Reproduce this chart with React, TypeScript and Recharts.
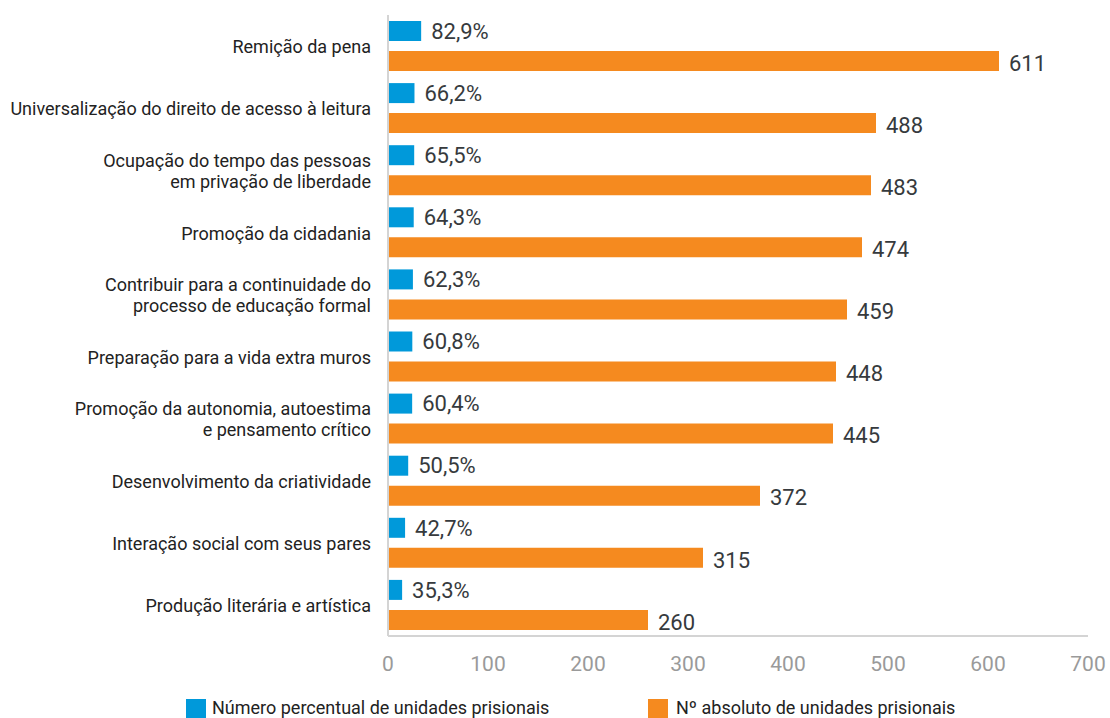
import { BarChart, Bar, XAxis, YAxis, Legend, LabelList } from 'recharts'

const categories = [
  'Remição da pena',
  'Universalização do direito de acesso à leitura',
  'Ocupação do tempo das pessoas\nem privação de liberdade',
  'Promoção da cidadania',
  'Contribuir para a continuidade do\nprocesso de educação formal',
  'Preparação para a vida extra muros',
  'Promoção da autonomia, autoestima\ne pensamento crítico',
  'Desenvolvimento da criatividade',
  'Interação social com seus pares',
  'Produção literária e artística',
]
const percentValues = [82.9, 66.2, 65.5, 64.3, 62.3, 60.8, 60.4, 50.5, 42.7, 35.3]
const absoluteValues = [611, 488, 483, 474, 459, 448, 445, 372, 315, 260]
const xTicks = [0, 100, 200, 300, 400, 500, 600, 700]

const BLUE = '#0099DA'
const ORANGE = '#F58A1F'
const FONT = 'Roboto, "Noto Sans", sans-serif'

const data = categories.map((name, i) => ({ name, pct: percentValues[i], abs: absoluteValues[i] }))

const CategoryTick = ({ x, y, payload }: any) => {
  const lines = String(payload.value).split('\n')
  const lh = 21
  const start = -((lines.length - 1) * lh) / 2
  return (
    <text x={x} y={y + 1} textAnchor="end" fontSize={18} fill="#222" fontFamily={FONT}>
      {lines.map((l, i) => (
        <tspan key={i} x={x} dy={i === 0 ? start + 6.3 : lh}>
          {l}
        </tspan>
      ))}
    </text>
  )
}

const valueLabel = (suffix: string, shift: number, fmt: (v: number) => string) => (props: any) => {
  const { x, y, width, height, value } = props
  return (
    <text
      x={x + width + 10}
      y={y + height / 2 + shift}
      dy="0.35em"
      fontSize={22}
      fill="#363a3d"
      fontFamily={FONT}
    >
      {fmt(value) + suffix}
    </text>
  )
}

const LegendBox = () => (
  <div style={{ position: 'relative', height: 42, fontFamily: FONT, fontSize: 18, color: '#222' }}>
    <span style={{ position: 'absolute', left: 186, top: 23, width: 20, height: 19, background: BLUE }} />
    <span style={{ position: 'absolute', left: 212, top: 21, lineHeight: '22px', whiteSpace: 'nowrap' }}>
      Número percentual de unidades prisionais
    </span>
    <span style={{ position: 'absolute', left: 648, top: 23, width: 20, height: 19, background: ORANGE }} />
    <span style={{ position: 'absolute', left: 676, top: 21, lineHeight: '22px', whiteSpace: 'nowrap' }}>
      Nº absoluto de unidades prisionais
    </span>
  </div>
)

export default function App() {
  return (
    <div style={{ width: 1110, height: 718, background: '#fff' }}>
      <style>{'body{margin:0}'}</style>
      <BarChart
        width={1110}
        height={718}
        layout="vertical"
        data={data}
        margin={{ top: 15, right: 22, left: 0, bottom: 0 }}
        barGap={10}
      >
        <XAxis
          xAxisId="abs"
          type="number"
          domain={[0, 700]}
          ticks={xTicks}
          height={40}
          tickLine={false}
          tickMargin={14}
          axisLine={{ stroke: '#d4d4d4', strokeWidth: 2 }}
          tick={{ fill: '#9a9a9a', fontSize: 21, fontFamily: FONT }}
        />
        <XAxis xAxisId="pct" type="number" domain={[0, 1750]} hide />
        <YAxis
          type="category"
          dataKey="name"
          width={388}
          tickLine={false}
          tickMargin={11}
          axisLine={{ stroke: '#d4d4d4', strokeWidth: 2 }}
          tick={<CategoryTick />}
          interval={0}
        />
        <Legend verticalAlign="bottom" content={<LegendBox />} />
        <Bar xAxisId="pct" dataKey="pct" fill={BLUE} barSize={20} isAnimationActive={false}>
          <LabelList dataKey="pct" content={valueLabel('%', 0, (v) => v.toFixed(1).replace('.', ','))} />
        </Bar>
        <Bar xAxisId="abs" dataKey="abs" fill={ORANGE} barSize={20} isAnimationActive={false}>
          <LabelList dataKey="abs" content={valueLabel('', 2, (v) => String(v))} />
        </Bar>
      </BarChart>
    </div>
  )
}
